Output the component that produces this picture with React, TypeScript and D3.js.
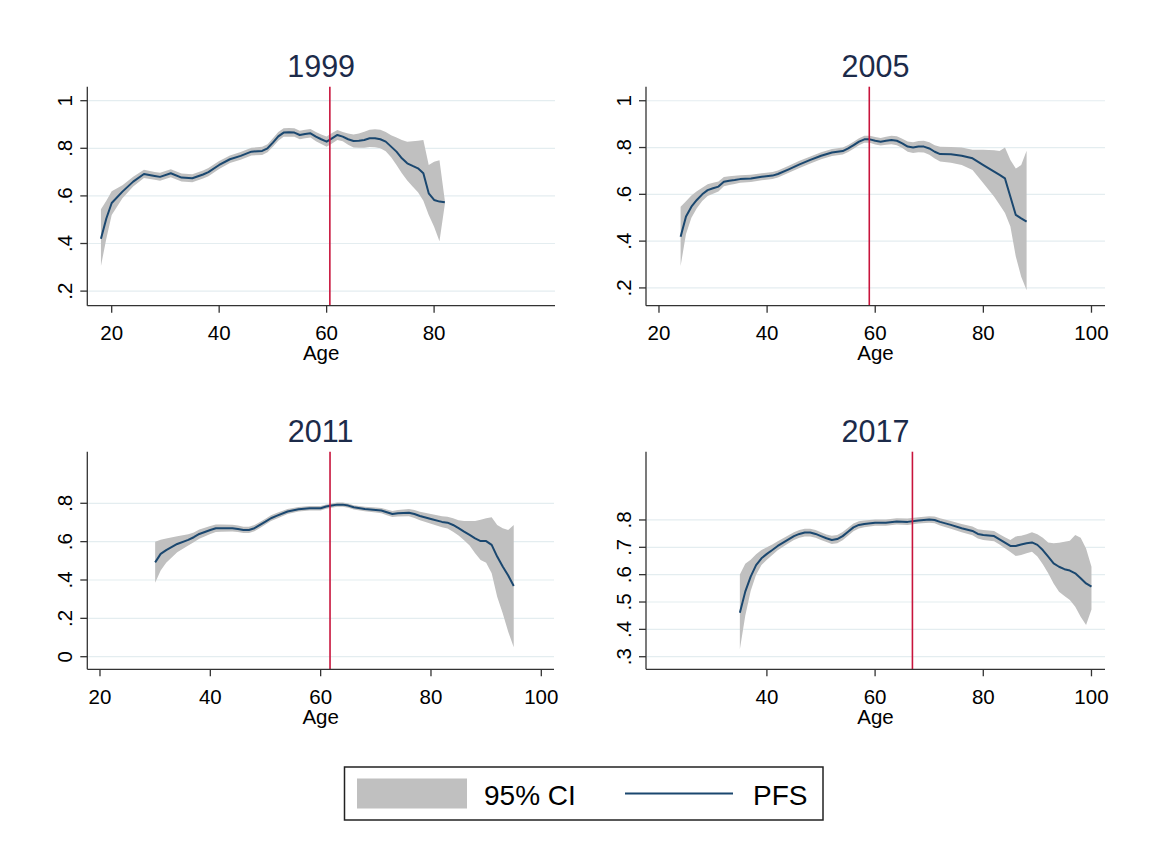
import React from "react";
import * as d3 from "d3";

// ---------------- DATA ----------------
const YEARS = ["1999", "2005", "2011", "2017"];
const CUTOFF_AGE = [60.6, 58.9, 61.7, 66.9];

const AGE_1999 = [18,19,20,22,24,26,28,29,31,33,35,37,38,40,42,44,46,48,49,50,51,52,53,54,55,56,57,58,59,60,61,62,63,64,65,66,67,68,69,70,71,72,73,74,75,76,77,78,79,80,81,82];
const PFS_1999 = [0.42,0.505,0.57,0.618,0.66,0.692,0.684,0.68,0.695,0.677,0.674,0.69,0.70,0.73,0.754,0.768,0.786,0.789,0.80,0.824,0.85,0.866,0.867,0.866,0.856,0.86,0.863,0.849,0.838,0.828,0.842,0.856,0.849,0.838,0.831,0.832,0.835,0.842,0.842,0.838,0.828,0.807,0.786,0.758,0.737,0.726,0.716,0.695,0.611,0.583,0.576,0.573];
const LO_1999 = [0.306,0.42,0.52,0.59,0.64,0.675,0.668,0.664,0.678,0.66,0.657,0.673,0.683,0.713,0.738,0.752,0.77,0.772,0.783,0.806,0.832,0.848,0.849,0.848,0.838,0.842,0.845,0.83,0.818,0.806,0.82,0.835,0.83,0.815,0.803,0.802,0.802,0.805,0.804,0.80,0.788,0.762,0.73,0.695,0.665,0.64,0.615,0.58,0.52,0.47,0.41,0.565];
const HI_1999 = [0.544,0.58,0.62,0.645,0.68,0.71,0.70,0.697,0.712,0.694,0.691,0.707,0.717,0.747,0.77,0.784,0.802,0.806,0.817,0.842,0.868,0.884,0.885,0.884,0.874,0.878,0.881,0.868,0.858,0.85,0.864,0.877,0.868,0.862,0.858,0.862,0.87,0.878,0.88,0.878,0.868,0.855,0.845,0.835,0.828,0.83,0.832,0.835,0.73,0.744,0.75,0.58];

const AGE_2005 = [24,25,26,27,28,29,30,31,32,33,34,35,37,39,41,42,44,46,48,50,52,54,55,56,57,58,59,60,61,62,63,64,65,66,67,68,69,70,71,72,74,76,78,80,82,83,84,85,86,87,88];
const PFS_2005 = [0.419,0.505,0.547,0.576,0.60,0.618,0.626,0.633,0.654,0.658,0.661,0.665,0.668,0.675,0.68,0.687,0.707,0.728,0.747,0.765,0.779,0.785,0.796,0.81,0.825,0.835,0.835,0.829,0.825,0.829,0.832,0.829,0.818,0.804,0.80,0.804,0.804,0.796,0.782,0.772,0.771,0.765,0.754,0.725,0.697,0.683,0.668,0.59,0.512,0.497,0.483];
const LO_2005 = [0.294,0.43,0.50,0.54,0.572,0.593,0.603,0.612,0.634,0.64,0.644,0.649,0.653,0.66,0.665,0.672,0.692,0.713,0.732,0.75,0.764,0.77,0.781,0.795,0.81,0.82,0.82,0.813,0.809,0.812,0.814,0.81,0.798,0.782,0.777,0.78,0.779,0.769,0.753,0.74,0.735,0.725,0.704,0.647,0.59,0.555,0.52,0.462,0.334,0.248,0.19];
const HI_2005 = [0.547,0.57,0.595,0.613,0.628,0.643,0.65,0.655,0.674,0.677,0.679,0.682,0.684,0.69,0.695,0.702,0.722,0.743,0.762,0.78,0.794,0.80,0.811,0.825,0.84,0.85,0.85,0.845,0.841,0.846,0.85,0.848,0.838,0.826,0.823,0.828,0.829,0.823,0.81,0.803,0.802,0.80,0.79,0.79,0.788,0.785,0.80,0.747,0.71,0.725,0.786];

const AGE_2011 = [30,31,32,34,36,37,38,40,41,42,44,45,46,47,48,49,50,51,52,54,56,58,60,61,62,63,64,65,66,68,70,71,72,73,74,76,77,78,80,82,83,84,85,86,87,88,89,90,91,92,93,94,95];
const PFS_2011 = [0.492,0.536,0.556,0.588,0.609,0.623,0.64,0.661,0.67,0.67,0.67,0.666,0.661,0.661,0.67,0.687,0.704,0.722,0.734,0.757,0.769,0.774,0.774,0.783,0.788,0.793,0.793,0.788,0.779,0.770,0.765,0.762,0.753,0.744,0.748,0.751,0.744,0.734,0.718,0.703,0.699,0.687,0.67,0.652,0.635,0.617,0.603,0.603,0.583,0.522,0.47,0.423,0.369];
const LO_2011 = [0.386,0.45,0.49,0.545,0.58,0.597,0.615,0.64,0.65,0.652,0.653,0.65,0.645,0.645,0.654,0.671,0.689,0.707,0.72,0.744,0.757,0.762,0.763,0.772,0.777,0.782,0.782,0.777,0.768,0.758,0.752,0.748,0.738,0.728,0.731,0.732,0.723,0.712,0.693,0.675,0.668,0.652,0.632,0.607,0.58,0.539,0.504,0.49,0.435,0.313,0.226,0.13,0.049];
const HI_2011 = [0.60,0.61,0.617,0.628,0.638,0.648,0.663,0.682,0.69,0.69,0.688,0.684,0.678,0.678,0.687,0.703,0.72,0.737,0.749,0.77,0.781,0.786,0.786,0.794,0.799,0.804,0.804,0.799,0.79,0.782,0.778,0.776,0.768,0.76,0.765,0.77,0.765,0.756,0.744,0.732,0.73,0.722,0.712,0.708,0.708,0.708,0.714,0.722,0.727,0.687,0.67,0.661,0.687];

const AGE_2017 = [35,36,37,38,39,40,41,42,43,44,45,46,47,48,49,50,51,52,53,54,55,56,57,58,60,62,64,66,68,70,71,72,74,76,78,79,80,82,83,84,85,86,87,88,89,90,91,92,93,94,95,96,97,98,99,100];
const PFS_2017 = [0.461,0.538,0.593,0.635,0.66,0.676,0.69,0.705,0.717,0.729,0.741,0.749,0.754,0.754,0.749,0.741,0.733,0.727,0.73,0.741,0.757,0.773,0.782,0.785,0.79,0.79,0.794,0.793,0.798,0.802,0.80,0.793,0.782,0.77,0.76,0.749,0.745,0.741,0.729,0.717,0.705,0.705,0.71,0.715,0.718,0.709,0.69,0.666,0.641,0.629,0.62,0.615,0.605,0.587,0.568,0.556];
const LO_2017 = [0.327,0.45,0.54,0.60,0.635,0.655,0.672,0.689,0.702,0.715,0.727,0.735,0.74,0.74,0.735,0.727,0.719,0.712,0.715,0.726,0.742,0.759,0.769,0.773,0.779,0.779,0.783,0.782,0.787,0.79,0.788,0.78,0.768,0.755,0.744,0.732,0.727,0.722,0.71,0.697,0.683,0.668,0.672,0.678,0.684,0.666,0.638,0.605,0.568,0.538,0.522,0.507,0.483,0.446,0.416,0.473];
const HI_2017 = [0.601,0.64,0.655,0.675,0.69,0.70,0.71,0.722,0.733,0.744,0.755,0.763,0.768,0.768,0.763,0.755,0.747,0.742,0.745,0.756,0.772,0.787,0.795,0.798,0.802,0.802,0.806,0.805,0.81,0.814,0.813,0.806,0.796,0.785,0.776,0.766,0.763,0.76,0.748,0.737,0.727,0.74,0.742,0.748,0.755,0.748,0.735,0.718,0.715,0.717,0.72,0.724,0.745,0.735,0.696,0.629];

const Y_TICKS = [[0.2,0.4,0.6,0.8,1],[0.2,0.4,0.6,0.8,1],[0,0.2,0.4,0.6,0.8],[0.3,0.4,0.5,0.6,0.7,0.8]];
const X_TICKS = [[20,40,60,80],[20,40,60,80,100],[20,40,60,80,100],[40,60,80,100]];
const X_DOMAINS = [[15.46,102.5],[17.6,102.5],[17.7,102.3],[17.65,102.5]];
const Y_DOMAINS = [[0.1387,1.0588],[0.124,1.06],[-0.0657,1.069],[0.254,1.0496]];

const SERIES = [
  { age: AGE_1999, pfs: PFS_1999, lo: LO_1999, hi: HI_1999 },
  { age: AGE_2005, pfs: PFS_2005, lo: LO_2005, hi: HI_2005 },
  { age: AGE_2011, pfs: PFS_2011, lo: LO_2011, hi: HI_2011 },
  { age: AGE_2017, pfs: PFS_2017, lo: LO_2017, hi: HI_2017 },
];

// ---------------- LAYOUT ----------------
const W = 1156, H = 845;
const FONT = "'Liberation Sans', Arial, Helvetica, sans-serif";
const PANELS = [
  { x0: 87.3, x1: 555, y0: 86.7, y1: 305.7 },
  { x0: 646, x1: 1105, y0: 86.7, y1: 305.7 },
  { x0: 87.3, x1: 554, y0: 451.7, y1: 669.3 },
  { x0: 646, x1: 1105, y0: 451.7, y1: 669.3 },
];
const NAVY = "#1a476f";
const CI_FILL = "#c0c0c0";
const RED = "#c8143c";
const GRID = "#e4edf0";
const AXIS = "#333";
const TITLE = "#1c2b4a";
const TICK_FS = 20.5;

const fmtY = (v: number) => {
  if (v === 0) return "0";
  if (v === 1) return "1";
  return d3.format(".1f")(v).replace(/^0/, "");
};

function Panel({ i }: { i: number }) {
  const p = PANELS[i];
  const s = SERIES[i];
  const x = d3.scaleLinear().domain(X_DOMAINS[i]).range([p.x0, p.x1]);
  const y = d3.scaleLinear().domain(Y_DOMAINS[i]).range([p.y1, p.y0]);
  const idx = d3.range(s.age.length);
  const area = d3
    .area<number>()
    .x((k) => x(s.age[k]))
    .y0((k) => y(s.lo[k]))
    .y1((k) => y(s.hi[k]))
    .curve(d3.curveLinear)(idx) as string;
  const line = d3
    .line<number>()
    .x((k) => x(s.age[k]))
    .y((k) => y(s.pfs[k]))
    .curve(d3.curveLinear)(idx) as string;
  const cx = (p.x0 + p.x1) / 2;
  return (
    <g>
      {Y_TICKS[i].map((t) => (
        <line key={"g" + t} x1={p.x0 + 1} x2={p.x1} y1={y(t)} y2={y(t)} stroke={GRID} strokeWidth={1.2} />
      ))}
      <path d={area} fill={CI_FILL} stroke="none" />
      <path d={line} fill="none" stroke={NAVY} strokeWidth={2} strokeLinejoin="round" />
      <line x1={x(CUTOFF_AGE[i])} x2={x(CUTOFF_AGE[i])} y1={p.y0} y2={p.y1} stroke={RED} strokeWidth={1.6} />
      <line x1={p.x0} x2={p.x0} y1={p.y0} y2={p.y1} stroke={AXIS} strokeWidth={1.3} />
      <line x1={p.x0} x2={p.x1} y1={p.y1} y2={p.y1} stroke={AXIS} strokeWidth={1.3} />
      {Y_TICKS[i].map((t) => (
        <g key={"y" + t}>
          <line x1={p.x0 - 7} x2={p.x0} y1={y(t)} y2={y(t)} stroke={AXIS} strokeWidth={1.3} />
          <text
            transform={`translate(${p.x0 - 15},${y(t)}) rotate(-90)`}
            textAnchor="middle"
            fontFamily={FONT}
            fontSize={TICK_FS}
            fill="#000"
          >
            {fmtY(t)}
          </text>
        </g>
      ))}
      {X_TICKS[i].map((t) => (
        <g key={"x" + t}>
          <line x1={x(t)} x2={x(t)} y1={p.y1} y2={p.y1 + 7} stroke={AXIS} strokeWidth={1.3} />
          <text x={x(t)} y={p.y1 + 34.3} textAnchor="middle" fontFamily={FONT} fontSize={TICK_FS} fill="#000">
            {t}
          </text>
        </g>
      ))}
      <text x={cx} y={p.y1 + 54.5} textAnchor="middle" fontFamily={FONT} fontSize={TICK_FS} fill="#000">
        Age
      </text>
      <text x={cx} y={p.y0 - 9.5} textAnchor="middle" fontFamily={FONT} fontSize={30.5} fill={TITLE}>
        {YEARS[i]}
      </text>
    </g>
  );
}

export default function App() {
  return (
    <svg
      width={W}
      height={H}
      viewBox={`0 0 ${W} ${H}`}
      style={{ position: "absolute", left: 0, top: 0, background: "#fff" }}
    >
      <rect x={0} y={0} width={W} height={H} fill="#fff" />
      {PANELS.map((_, i) => (
        <Panel key={i} i={i} />
      ))}
      <rect x={344.5} y={767} width={478.5} height={53} fill="#fff" stroke="#222" strokeWidth={1.5} />
      <rect x={357} y={778.5} width={110} height={30} fill={CI_FILL} />
      <text x={484} y={805} fontFamily={FONT} fontSize={28} fill="#000">
        95% CI
      </text>
      <line x1={625} x2={733} y1={793.5} y2={793.5} stroke={NAVY} strokeWidth={2} />
      <text x={753} y={805} fontFamily={FONT} fontSize={28} fill="#000">
        PFS
      </text>
    </svg>
  );
}
